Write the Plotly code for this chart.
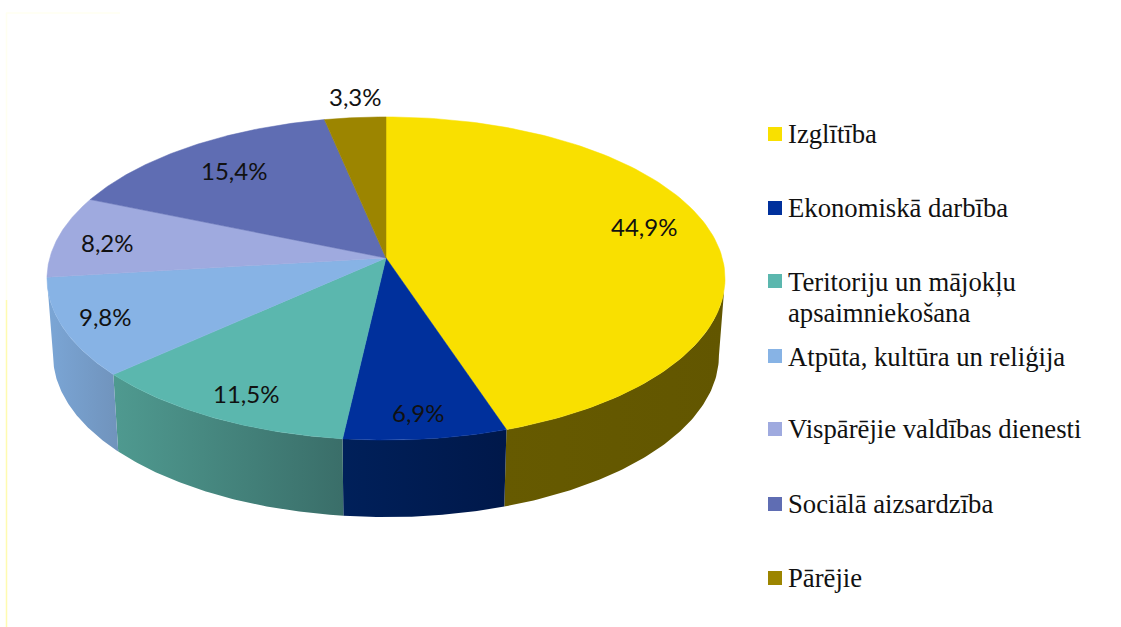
import numpy as np
import plotly.graph_objects as go

categories = ["Izglītība", "Ekonomiskā darbība", "Teritoriju un mājokļu<br>apsaimniekošana",
              "Atpūta, kultūra un reliģija", "Vispārējie valdības dienesti",
              "Sociālā aizsardzība", "Pārējie"]
values = [44.9, 6.9, 11.5, 9.8, 8.2, 15.4, 3.3]
value_labels = ["44,9%", "6,9%", "11,5%", "9,8%", "8,2%", "15,4%", "3,3%"]
top_colors = ["#F9E000", "#00309C", "#5BB7AE", "#87B3E5", "#9FAADF", "#5F6DB3", "#9C8500"]
side_left = ["#665A00", "#00205A", "#4F9A90", "#7BA6D6", "#8E99C9", "#55629F", "#665A00"]
side_right = ["#625600", "#00184A", "#3A6E69", "#7093BC", "#8E99C9", "#55629F", "#665A00"]
label_x = [644, 418, 246, 105, 107, 234, 355]
label_y = [226, 412, 393, 316, 242, 170, 96]
legend_y = [134, 208, 281, 356, 429, 504, 578]
legend_text_y = [134, 208, 282, 357, 429, 504, 578]

CX, CY, A, B, K, DEPTH, BOTTOM_SCALE = 386, 258, 336.3, 159, 0.127, 77, 0.982
LINE_STEP = 31


def project(deg, bottom=False):
    t = np.radians(deg)
    x, y = np.sin(t), -np.cos(t)
    w = 1 - K * y
    s = BOTTOM_SCALE if bottom else 1
    return CX + s * A * x / w, CY + (DEPTH if bottom else 0) + B * y / w


edges = np.concatenate([[0], np.cumsum(values)]) / sum(values) * 360
# the wall is only visible between the two widest points of the projected disc
wall_from = 90 + np.degrees(np.arcsin(K))
wall_to = 360 - wall_from
fig = go.Figure()

# side walls
for i in range(len(values)):
    start, stop = max(edges[i], wall_from), min(edges[i + 1], wall_to)
    if stop <= start:
        continue
    deg = np.linspace(start, stop, 80)
    tx, ty = project(deg)
    bx, by = project(deg[::-1], bottom=True)
    fig.add_trace(go.Scatter(
        x=np.concatenate([tx, bx]), y=np.concatenate([ty, by]),
        mode="lines", line=dict(width=0), fill="toself", hoverinfo="skip", showlegend=False,
        fillgradient=dict(type="horizontal", colorscale=[[0, side_left[i]], [1, side_right[i]]]),
    ))

# top faces
for i in range(len(values)):
    deg = np.linspace(edges[i], edges[i + 1], 120)
    tx, ty = project(deg)
    fig.add_trace(go.Scatter(
        x=np.concatenate([[CX], tx, [CX]]), y=np.concatenate([[CY], ty, [CY]]),
        mode="lines", line=dict(width=0.5, color=top_colors[i]), fill="toself",
        fillcolor=top_colors[i], name=categories[i].replace("<br>", " "),
        text=value_labels[i], hoverinfo="name+text", showlegend=False,
    ))

# legend swatches
fig.add_trace(go.Scatter(
    x=[775] * len(categories), y=legend_y, mode="markers", hoverinfo="skip", showlegend=False,
    marker=dict(symbol="square", size=14, color=top_colors, line=dict(width=0)),
))

for lab, x, y in zip(value_labels, label_x, label_y):
    fig.add_annotation(x=x, y=y, text=lab, showarrow=False, xanchor="center", yanchor="middle",
                       font=dict(family="Lato, sans-serif", size=24, color="#111111"))
for cat, y in zip(categories, legend_text_y):
    for j, line in enumerate(cat.split("<br>")):
        fig.add_annotation(x=786, y=y + j * LINE_STEP, text=line, showarrow=False, xanchor="left",
                           yanchor="middle", align="left",
                           font=dict(family="Liberation Serif, serif", size=26.7, color="#111111"))

fig.add_shape(type="line", x0=6.5, x1=6.5, y0=13, y1=300, line=dict(color="#FFFFF0", width=1.5), layer="below")
fig.add_shape(type="line", x0=6.5, x1=6.5, y0=300, y1=627, line=dict(color="#FFFBB0", width=1.5), layer="below")
fig.add_shape(type="line", x0=6, x1=120, y0=13, y1=13, line=dict(color="#FFFFF0", width=1.5), layer="below")

fig.update_layout(
    width=1121, height=627, margin=dict(l=0, r=0, t=0, b=0),
    paper_bgcolor="white", plot_bgcolor="white", showlegend=False,
    xaxis=dict(range=[0, 1121], visible=False, fixedrange=True),
    yaxis=dict(range=[627, 0], visible=False, fixedrange=True),
)
fig.write_html("out.html", config={"displayModeBar": False},
               post_script="document.body.style.margin='0';document.documentElement.style.overflow='hidden';")
